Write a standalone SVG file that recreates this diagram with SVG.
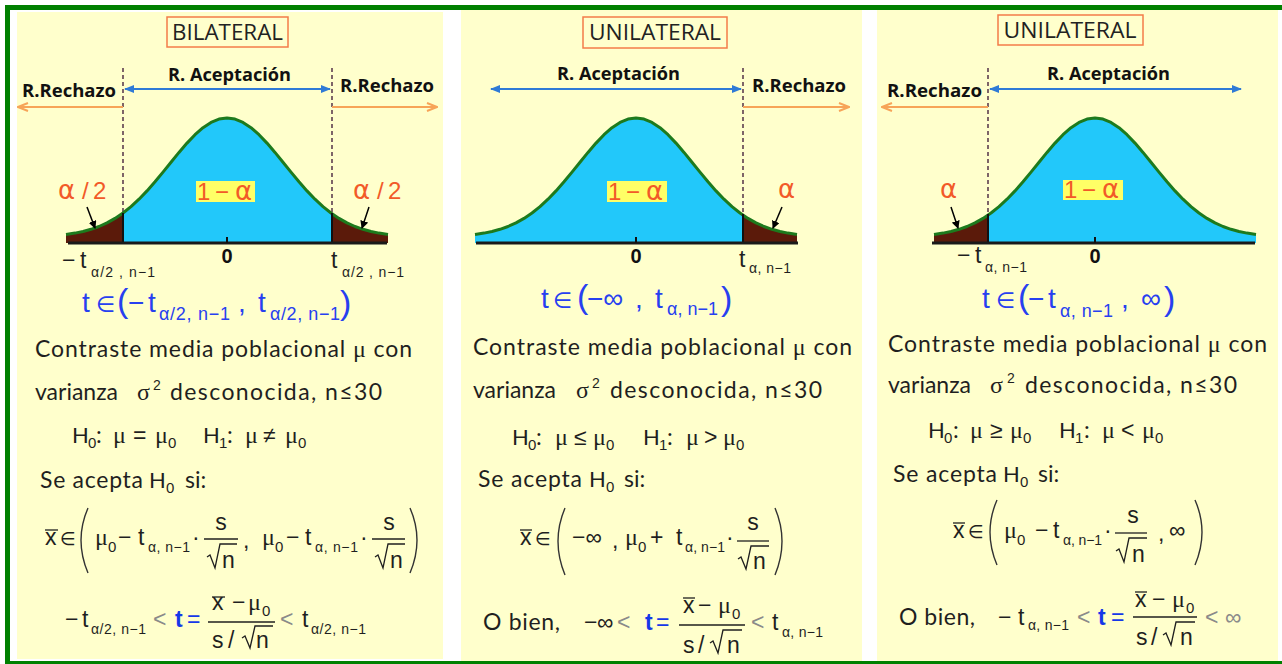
<svg xmlns="http://www.w3.org/2000/svg" xmlns:xlink="http://www.w3.org/1999/xlink" width="1282" height="664" viewBox="0 0 1282 664">
<style>
.panel{fill:#FFFFCC}
.frame{fill:#008000}
.hbox{fill:none;stroke:#F47C48;stroke-width:1.5}
.hdr{font-family:'Open Sans','Liberation Sans',sans-serif;font-size:22px;fill:#222}
.lbl{font-family:'Open Sans','Liberation Sans',sans-serif;font-weight:bold;font-size:17px;fill:#111}
.dash{stroke:#5E3F4F;stroke-width:1.6;stroke-dasharray:4 3;fill:none}
.acc{stroke:#2F7AD6;stroke-width:2;fill:none}
.rej{stroke:#F7A458;stroke-width:2;fill:none}
.kar{stroke:#000;stroke-width:1.5;fill:none}
.axis{stroke:#1a1a1a;stroke-width:3}
.cut{stroke:#111;stroke-width:2}
.curve{fill:none;stroke:#1D7A1D;stroke-width:3;stroke-linejoin:round}
.cyan{fill:#22C8FA}
.brown{fill:#5B1A0A}
.org{font-family:'Liberation Sans','DejaVu Sans',sans-serif;font-size:24px;fill:#F25A28}
.oa{font-family:'DejaVu Sans',sans-serif;font-size:26px}
.hl{fill:#FFFF66}
.zero{font-family:'Liberation Sans',sans-serif;font-weight:bold;font-size:20px;fill:#111}
.t{font-family:Lato,'Liberation Sans',sans-serif;font-size:23px;fill:#1f1f1f}
.h{font-family:Lato,'Liberation Sans',sans-serif;font-size:22px;fill:#1f1f1f}
.g{font-family:'Liberation Serif','DejaVu Serif',serif;font-size:24px;fill:#1f1f1f}
.ms{font-family:'Liberation Sans','DejaVu Sans',sans-serif;font-size:23px;fill:#1f1f1f}
.el{font-family:'DejaVu Sans',sans-serif;font-size:18px;fill:#1f1f1f}
.sub{font-family:'Liberation Sans','DejaVu Sans',sans-serif;font-size:14px;fill:#1f1f1f}
.sub0{font-family:'Liberation Sans','DejaVu Sans',sans-serif;font-size:15px;fill:#1f1f1f}
.lt{fill:#8a8a8a}
.tb{fill:#1538E8;font-weight:bold}
.bl{font-family:'Liberation Sans','DejaVu Sans',sans-serif;font-size:28px;fill:#2740F0}
.ble{font-family:'DejaVu Sans',sans-serif;font-size:22px;fill:#2740F0}
.bls{font-family:'Liberation Sans','DejaVu Sans',sans-serif;font-size:18px;fill:#2740F0}
.blp{font-family:'Liberation Sans','DejaVu Sans',sans-serif;font-size:34px;fill:#2740F0}
.fl{stroke:#1f1f1f;stroke-width:1.3;fill:none}
.par{stroke:#333;stroke-width:1.4;fill:none}
</style>
<defs>
<path id="bellCurve" d="M-161,-8.6 L-152,-9.9 L-144,-11.5 L-136,-13.7 L-128,-16.5 L-120,-20.1 L-112,-24.6 L-104,-30 L-96,-36.4 L-88,-43.8 L-80,-52.1 L-72,-61.2 L-64,-70.9 L-56,-80.8 L-48,-90.6 L-40,-99.9 L-32,-108.3 L-24,-115.3 L-16,-120.6 L-8,-123.9 L0,-125 L8,-123.9 L16,-120.6 L24,-115.3 L32,-108.3 L40,-99.9 L48,-90.6 L56,-80.8 L64,-70.9 L72,-61.2 L80,-52.1 L88,-43.8 L96,-36.4 L104,-30 L112,-24.6 L120,-20.1 L128,-16.5 L136,-13.7 L144,-11.5 L152,-9.9 L161,-8.6"/>
<path id="bellArea" d="M-161,-8.6 L-152,-9.9 L-144,-11.5 L-136,-13.7 L-128,-16.5 L-120,-20.1 L-112,-24.6 L-104,-30 L-96,-36.4 L-88,-43.8 L-80,-52.1 L-72,-61.2 L-64,-70.9 L-56,-80.8 L-48,-90.6 L-40,-99.9 L-32,-108.3 L-24,-115.3 L-16,-120.6 L-8,-123.9 L0,-125 L8,-123.9 L16,-120.6 L24,-115.3 L32,-108.3 L40,-99.9 L48,-90.6 L56,-80.8 L64,-70.9 L72,-61.2 L80,-52.1 L88,-43.8 L96,-36.4 L104,-30 L112,-24.6 L120,-20.1 L128,-16.5 L136,-13.7 L144,-11.5 L152,-9.9 L161,-8.6 L161,0 L-161,0 Z"/>
<clipPath id="bellClip"><use href="#bellArea"/></clipPath>
<marker id="bh" viewBox="0 0 10 8" refX="9" refY="4" markerWidth="10" markerHeight="8" markerUnits="userSpaceOnUse" orient="auto-start-reverse"><path d="M0,0 L10,4 L0,8 Z" fill="#2F7AD6"/></marker>
<marker id="oh" viewBox="0 0 12 10" refX="11" refY="5" markerWidth="12" markerHeight="10" markerUnits="userSpaceOnUse" orient="auto"><path d="M1,1 L11,5 L1,9" fill="none" stroke="#F7A458" stroke-width="2"/></marker>
<marker id="kh" viewBox="0 0 8 8" refX="7" refY="4" markerWidth="8" markerHeight="8" markerUnits="userSpaceOnUse" orient="auto"><path d="M0,0 L8,4 L0,8 Z" fill="#000"/></marker>
</defs>

<rect width="1282" height="664" fill="#fff"/>
<rect class="panel" x="17" y="12" width="426" height="647"/>
<rect class="panel" x="461" y="10" width="401" height="651"/>
<rect class="panel" x="877" y="10" width="401" height="651"/>
<rect class="frame" x="5" y="5" width="1277" height="5"/>
<rect class="frame" x="5" y="5" width="5" height="659"/>
<rect class="frame" x="5" y="661" width="1277" height="3"/>

<!-- Panel 1: BILATERAL -->
<g id="bilateral">
<rect class="hbox" x="167" y="17" width="121" height="30"/>
<text class="hdr" x="227.5" y="40" text-anchor="middle" textLength="111" lengthAdjust="spacingAndGlyphs">BILATERAL</text>
<line class="dash" x1="123" y1="68" x2="123" y2="243"/>
<line class="dash" x1="332" y1="68" x2="332" y2="243"/>
<text class="lbl" x="168" y="81" textLength="123" lengthAdjust="spacingAndGlyphs">R. Aceptación</text>
<text class="lbl" x="22" y="97" textLength="94" lengthAdjust="spacingAndGlyphs">R.Rechazo</text>
<text class="lbl" x="340" y="92" textLength="94" lengthAdjust="spacingAndGlyphs">R.Rechazo</text>
<g transform="translate(227,243)">
<use href="#bellArea" class="cyan"/>
<g clip-path="url(#bellClip)"><rect class="brown" x="-170" y="-140" width="66" height="141"/><rect class="brown" x="105" y="-140" width="66" height="141"/></g>
<use href="#bellCurve" class="curve"/>
</g>
<line class="cut" x1="123" y1="213" x2="123" y2="243"/>
<line class="cut" x1="332" y1="213" x2="332" y2="243"/>
<line class="axis" x1="68" y1="243" x2="387" y2="243"/>
<line class="cut" x1="227" y1="237" x2="227" y2="243"/>
<text class="org" y="199"><tspan class="oa" x="58">α</tspan><tspan x="82">/</tspan><tspan x="93">2</tspan></text>
<text class="org" y="199"><tspan class="oa" x="353">α</tspan><tspan x="377">/</tspan><tspan x="388">2</tspan></text>
<rect class="hl" x="196" y="181" width="59" height="21"/>
<text class="org" y="200"><tspan x="197">1</tspan><tspan x="215">−</tspan><tspan class="oa" x="235">α</tspan></text>
<text class="zero" x="227" y="263" text-anchor="middle">0</text>
<text class="ms" y="268" font-size="22"><tspan x="62">−</tspan><tspan x="80">t</tspan></text>
<text class="sub" x="91" y="277" textLength="64" lengthAdjust="spacing">α/2 , n−1</text>
<text class="ms" x="331" y="268" font-size="22">t</text>
<text class="sub" x="342" y="277" textLength="62" lengthAdjust="spacing">α/2 , n−1</text>
<text class="bl" y="312"><tspan x="82">t</tspan><tspan class="ble" x="96">∈</tspan><tspan class="blp" x="117">(</tspan><tspan x="128">−</tspan><tspan x="148">t</tspan></text>
<text class="bls" x="159" y="320" textLength="71" lengthAdjust="spacing">α/2, n−1</text>
<text class="bl" x="238" y="312">,</text>
<text class="bl" x="258" y="312">t</text>
<text class="bls" x="270" y="320" textLength="70" lengthAdjust="spacing">α/2, n−1</text>
<text class="blp" x="340" y="314">)</text>

<text class="t" x="35" y="357" textLength="377" lengthAdjust="spacing">Contraste media poblacional <tspan class="g">μ</tspan> con</text>
<text class="t" x="35" y="400">varianza</text>
<text class="g" x="137" y="400">σ</text><text class="sub" x="153" y="390">2</text>
<text class="t" x="170" y="400" textLength="212" lengthAdjust="spacing">desconocida, n≤30</text>
<text y="443"><tspan class="h" x="72">H</tspan><tspan class="sub0" x="88" y="448">0</tspan><tspan class="t" x="96" y="443">:</tspan><tspan class="g" x="113">μ</tspan><tspan class="ms" x="133">=</tspan><tspan class="g" x="155">μ</tspan><tspan class="sub0" x="168" y="448">0</tspan><tspan class="h" x="203" y="443">H</tspan><tspan class="sub0" x="219" y="448">1</tspan><tspan class="t" x="227" y="443">:</tspan><tspan class="g" x="245">μ</tspan><tspan class="ms" x="263">≠</tspan><tspan class="g" x="285">μ</tspan><tspan class="sub0" x="298" y="448">0</tspan></text>
<text y="488"><tspan class="t" x="40" textLength="103" lengthAdjust="spacing">Se acepta</tspan><tspan class="h" x="149">H</tspan><tspan class="sub0" x="166" y="493">0</tspan><tspan class="t" x="185" y="488">si:</tspan></text>
<text class="ms" x="45" y="545">x</text><line class="fl" x1="45" y1="530" x2="58" y2="530"/>
<text class="el" x="60" y="545">∈</text>
<path class="par" d="M88,508 Q74,540 88,573"/>
<text class="g" x="95" y="545">μ</text><text class="sub0" x="108" y="552">0</text>
<text class="ms" x="118" y="545">−</text>
<text class="ms" x="138" y="545">t</text><text class="sub" x="148" y="552" textLength="42" lengthAdjust="spacing">α, n−1</text>
<text class="ms" x="192" y="545">·</text>
<line class="fl" x1="204" y1="539" x2="238" y2="539"/>
<text class="ms" x="221" y="530" text-anchor="middle">s</text>
<path class="fl" d="M207,557 L210,555 L215,568 L220,544 L237,544"/>
<text class="ms" x="222" y="568">n</text>
<text class="ms" x="243" y="548">,</text>
<text class="g" x="262" y="545">μ</text><text class="sub0" x="275" y="552">0</text>
<text class="ms" x="286" y="545">−</text>
<text class="ms" x="305" y="545">t</text><text class="sub" x="315" y="552" textLength="43" lengthAdjust="spacing">α, n−1</text>
<text class="ms" x="360" y="545">·</text>
<line class="fl" x1="372" y1="539" x2="405" y2="539"/>
<text class="ms" x="389" y="530" text-anchor="middle">s</text>
<path class="fl" d="M375,557 L378,555 L383,568 L388,544 L405,544"/>
<text class="ms" x="390" y="568">n</text>
<path class="par" d="M410,508 Q424,540 410,573"/>
<text class="ms" x="65" y="627">−</text><text class="ms" x="82" y="627">t</text>
<text class="sub" x="91" y="634" textLength="55" lengthAdjust="spacing">α/2, n−1</text>
<text class="ms lt" x="153" y="627">&lt;</text>
<text class="ms tb" x="175" y="627">t</text>
<text class="ms" x="187" y="627" style="fill:#1538E8">=</text>
<line class="fl" x1="208" y1="622" x2="275" y2="622"/>
<text class="ms" x="212" y="610">x</text><line class="fl" x1="212" y1="597" x2="225" y2="597"/>
<text class="ms" x="232" y="610">−</text>
<text class="g" x="248" y="610">μ</text><text class="sub0" x="262" y="616">0</text>
<text class="ms" x="212" y="648">s</text><text class="ms" x="228" y="648">/</text>
<path class="fl" d="M242,638 L245,636 L250,648 L255,626 L273,626"/>
<text class="ms" x="256" y="648">n</text>
<text class="ms lt" x="280" y="627">&lt;</text>
<text class="ms" x="302" y="627">t</text>
<text class="sub" x="311" y="634" textLength="55" lengthAdjust="spacing">α/2, n−1</text>
</g>

<!-- Panel 2: UNILATERAL (right tail) -->
<g id="unilateral-right">
<rect class="hbox" x="583" y="17" width="144" height="31"/>
<text class="hdr" x="655" y="40" text-anchor="middle" textLength="132" lengthAdjust="spacingAndGlyphs">UNILATERAL</text>
<line class="dash" x1="743" y1="68" x2="743" y2="243"/>
<text class="lbl" x="557" y="80" textLength="123" lengthAdjust="spacingAndGlyphs">R. Aceptación</text>
<text class="lbl" x="752" y="92" textLength="94" lengthAdjust="spacingAndGlyphs">R.Rechazo</text>
<g transform="translate(636,243)">
<use href="#bellArea" class="cyan"/>
<g clip-path="url(#bellClip)"><rect class="brown" x="107" y="-140" width="66" height="141"/></g>
<use href="#bellCurve" class="curve"/>
</g>
<line class="cut" x1="743" y1="214" x2="743" y2="243"/>
<line class="axis" x1="476" y1="243" x2="798" y2="243"/>
<line class="cut" x1="636" y1="237" x2="636" y2="243"/>
<text class="org oa" x="778" y="198">α</text>
<rect class="hl" x="607" y="181" width="60" height="21"/>
<text class="org" y="200"><tspan x="608">1</tspan><tspan x="626">−</tspan><tspan class="oa" x="646">α</tspan></text>
<text class="zero" x="636" y="263" text-anchor="middle">0</text>
<text class="ms" x="739" y="267" font-size="22">t</text>
<text class="sub" x="749" y="273" textLength="42" lengthAdjust="spacing">α, n−1</text>
<text class="bl" y="308"><tspan x="541">t</tspan><tspan class="ble" x="553">∈</tspan><tspan class="blp" x="577">(</tspan><tspan x="587">−∞</tspan><tspan x="635">,</tspan><tspan x="655">t</tspan></text>
<text class="bls" x="667" y="315" textLength="51" lengthAdjust="spacing">α, n−1</text>
<text class="blp" x="721" y="310">)</text>

<text class="t" x="473" y="355" textLength="379" lengthAdjust="spacing">Contraste media poblacional <tspan class="g">μ</tspan> con</text>
<text class="t" x="473" y="398">varianza</text>
<text class="g" x="576" y="398">σ</text><text class="sub" x="592" y="388">2</text>
<text class="t" x="610" y="398" textLength="212" lengthAdjust="spacing">desconocida, n≤30</text>
<text y="445"><tspan class="h" x="512">H</tspan><tspan class="sub0" x="528" y="450">0</tspan><tspan class="t" x="536" y="445">:</tspan><tspan class="g" x="555">μ</tspan><tspan class="ms" x="574">≤</tspan><tspan class="g" x="593">μ</tspan><tspan class="sub0" x="606" y="450">0</tspan><tspan class="h" x="643" y="445">H</tspan><tspan class="sub0" x="659" y="450">1</tspan><tspan class="t" x="667" y="445">:</tspan><tspan class="g" x="686">μ</tspan><tspan class="ms" x="704">&gt;</tspan><tspan class="g" x="723">μ</tspan><tspan class="sub0" x="736" y="450">0</tspan></text>
<text y="487"><tspan class="t" x="478" textLength="104" lengthAdjust="spacing">Se acepta</tspan><tspan class="h" x="589">H</tspan><tspan class="sub0" x="606" y="492">0</tspan><tspan class="t" x="624" y="487">si:</tspan></text>
<text class="ms" x="520" y="545">x</text><line class="fl" x1="520" y1="530" x2="532" y2="530"/>
<text class="el" x="535" y="545">∈</text>
<path class="par" d="M565,508 Q551,541 565,575"/>
<text class="ms" x="572" y="545">−∞</text>
<text class="ms" x="612" y="548">,</text>
<text class="g" x="625" y="545">μ</text><text class="sub0" x="638" y="552">0</text>
<text class="ms" x="650" y="545">+</text>
<text class="ms" x="676" y="545">t</text><text class="sub" x="685" y="552" textLength="40" lengthAdjust="spacing">α, n−1</text>
<text class="ms" x="726" y="545">·</text>
<line class="fl" x1="737" y1="541" x2="769" y2="541"/>
<text class="ms" x="753" y="530" text-anchor="middle">s</text>
<path class="fl" d="M738,559 L741,557 L746,569 L751,546 L769,546"/>
<text class="ms" x="753" y="569">n</text>
<path class="par" d="M775,508 Q789,541 775,575"/>
<text class="t" x="483" y="630" textLength="77" lengthAdjust="spacing">O bien,</text>
<text class="ms" x="584" y="630">−</text><text class="ms" x="597" y="630" font-size="20">∞</text>
<text class="ms lt" x="617" y="630">&lt;</text>
<text class="ms tb" x="645" y="630">t</text>
<text class="ms" x="656" y="630" style="fill:#1538E8">=</text>
<line class="fl" x1="679" y1="625" x2="745" y2="625"/>
<text class="ms" x="683" y="613">x</text><line class="fl" x1="683" y1="598" x2="695" y2="598"/>
<text class="ms" x="698" y="613">−</text>
<text class="g" x="718" y="613">μ</text><text class="sub0" x="732" y="619">0</text>
<text class="ms" x="683" y="653">s</text><text class="ms" x="698" y="653">/</text>
<path class="fl" d="M710,643 L713,641 L718,653 L723,630 L742,630"/>
<text class="ms" x="727" y="653">n</text>
<text class="ms lt" x="751" y="630">&lt;</text>
<text class="ms" x="772" y="630">t</text>
<text class="sub" x="782" y="637" textLength="41" lengthAdjust="spacing">α, n−1</text>
</g>

<!-- Panel 3: UNILATERAL (left tail) -->
<g id="unilateral-left">
<rect class="hbox" x="998" y="15" width="145" height="30"/>
<text class="hdr" x="1070" y="38" text-anchor="middle" textLength="133" lengthAdjust="spacingAndGlyphs">UNILATERAL</text>
<line class="dash" x1="988" y1="68" x2="988" y2="243"/>
<text class="lbl" x="887" y="97" textLength="95" lengthAdjust="spacingAndGlyphs">R.Rechazo</text>
<text class="lbl" x="1047" y="80" textLength="123" lengthAdjust="spacingAndGlyphs">R. Aceptación</text>
<g transform="translate(1095,243)">
<use href="#bellArea" class="cyan"/>
<g clip-path="url(#bellClip)"><rect class="brown" x="-170" y="-140" width="63" height="141"/></g>
<use href="#bellCurve" class="curve"/>
</g>
<line class="cut" x1="988" y1="214" x2="988" y2="243"/>
<line class="axis" x1="932" y1="243" x2="1255" y2="243"/>
<line class="cut" x1="1095" y1="237" x2="1095" y2="243"/>
<text class="org oa" x="940" y="198">α</text>
<rect class="hl" x="1063" y="180" width="60" height="20"/>
<text class="org" y="198"><tspan x="1064">1</tspan><tspan x="1082">−</tspan><tspan class="oa" x="1102">α</tspan></text>
<text class="zero" x="1095" y="263" text-anchor="middle">0</text>
<text class="ms" y="263" font-size="22"><tspan x="957">−</tspan><tspan x="975">t</tspan></text>
<text class="sub" x="985" y="272" textLength="42" lengthAdjust="spacing">α, n−1</text>
<text class="bl" y="308"><tspan x="982">t</tspan><tspan class="ble" x="996">∈</tspan><tspan class="blp" x="1018">(</tspan><tspan x="1028">−</tspan><tspan x="1048">t</tspan></text>
<text class="bls" x="1060" y="317" textLength="53" lengthAdjust="spacing">α, n−1</text>
<text class="bl" x="1121" y="308">,</text>
<text class="bl" x="1141" y="308">∞</text>
<text class="blp" x="1164" y="310">)</text>

<text class="t" x="888" y="352" textLength="379" lengthAdjust="spacing">Contraste media poblacional <tspan class="g">μ</tspan> con</text>
<text class="t" x="888" y="393">varianza</text>
<text class="g" x="990" y="393">σ</text><text class="sub" x="1007" y="383">2</text>
<text class="t" x="1025" y="393" textLength="212" lengthAdjust="spacing">desconocida, n≤30</text>
<text y="438"><tspan class="h" x="928">H</tspan><tspan class="sub0" x="944" y="443">0</tspan><tspan class="t" x="953" y="438">:</tspan><tspan class="g" x="970">μ</tspan><tspan class="ms" x="990">≥</tspan><tspan class="g" x="1010">μ</tspan><tspan class="sub0" x="1023" y="443">0</tspan><tspan class="h" x="1059" y="438">H</tspan><tspan class="sub0" x="1075" y="443">1</tspan><tspan class="t" x="1084" y="438">:</tspan><tspan class="g" x="1102">μ</tspan><tspan class="ms" x="1121">&lt;</tspan><tspan class="g" x="1142">μ</tspan><tspan class="sub0" x="1155" y="443">0</tspan></text>
<text y="482"><tspan class="t" x="893" textLength="104" lengthAdjust="spacing">Se acepta</tspan><tspan class="h" x="1003">H</tspan><tspan class="sub0" x="1020" y="487">0</tspan><tspan class="t" x="1038" y="482">si:</tspan></text>
<text class="ms" x="953" y="538">x</text><line class="fl" x1="953" y1="523" x2="965" y2="523"/>
<text class="el" x="968" y="538">∈</text>
<path class="par" d="M997,500 Q983,532 997,565"/>
<text class="g" x="1004" y="538">μ</text><text class="sub0" x="1017" y="545">0</text>
<text class="ms" x="1035" y="538">−</text>
<text class="ms" x="1053" y="538">t</text><text class="sub" x="1063" y="545" textLength="39" lengthAdjust="spacing">α, n−1</text>
<text class="ms" x="1104" y="538">·</text>
<line class="fl" x1="1115" y1="533" x2="1147" y2="533"/>
<text class="ms" x="1133" y="523" text-anchor="middle">s</text>
<path class="fl" d="M1116,551 L1119,549 L1124,562 L1129,538 L1147,538"/>
<text class="ms" x="1132" y="562">n</text>
<text class="ms" x="1158" y="541">,</text>
<text class="ms" x="1169" y="538" font-size="20">∞</text>
<path class="par" d="M1195,500 Q1209,532 1195,565"/>
<text class="t" x="899" y="625" textLength="76" lengthAdjust="spacing">O bien,</text>
<text class="ms" x="998" y="625">−</text><text class="ms" x="1018" y="625">t</text>
<text class="sub" x="1028" y="630" textLength="41" lengthAdjust="spacing">α, n−1</text>
<text class="ms lt" x="1077" y="625">&lt;</text>
<text class="ms tb" x="1098" y="625">t</text>
<text class="ms" x="1111" y="625" style="fill:#1538E8">=</text>
<line class="fl" x1="1133" y1="617" x2="1197" y2="617"/>
<text class="ms" x="1135" y="607">x</text><line class="fl" x1="1135" y1="592" x2="1147" y2="592"/>
<text class="ms" x="1152" y="607">−</text>
<text class="g" x="1172" y="607">μ</text><text class="sub0" x="1186" y="613">0</text>
<text class="ms" x="1136" y="645">s</text><text class="ms" x="1151" y="645">/</text>
<path class="fl" d="M1163,635 L1166,633 L1171,645 L1176,622 L1195,622"/>
<text class="ms" x="1180" y="645">n</text>
<text class="ms lt" x="1205" y="625">&lt;</text>
<text class="ms lt" x="1225" y="625" font-size="20">∞</text>
</g>

<g id="connectors">
<line class="acc" x1="125" y1="89" x2="330" y2="89" marker-start="url(#bh)" marker-end="url(#bh)"/>
<line class="rej" x1="123" y1="107" x2="18" y2="107" marker-end="url(#oh)"/>
<line class="rej" x1="332" y1="107" x2="437" y2="107" marker-end="url(#oh)"/>
<line class="kar" x1="87" y1="207" x2="95" y2="228" marker-end="url(#kh)"/>
<line class="kar" x1="369" y1="207" x2="362" y2="228" marker-end="url(#kh)"/>
<line class="acc" x1="491" y1="89" x2="741" y2="89" marker-start="url(#bh)" marker-end="url(#bh)"/>
<line class="rej" x1="743" y1="107" x2="849" y2="107" marker-end="url(#oh)"/>
<line class="kar" x1="782" y1="207" x2="773" y2="228" marker-end="url(#kh)"/>
<line class="acc" x1="990" y1="89" x2="1241" y2="89" marker-start="url(#bh)" marker-end="url(#bh)"/>
<line class="rej" x1="988" y1="107" x2="882" y2="107" marker-end="url(#oh)"/>
<line class="kar" x1="951" y1="207" x2="958" y2="228" marker-end="url(#kh)"/>
</g>
</svg>
